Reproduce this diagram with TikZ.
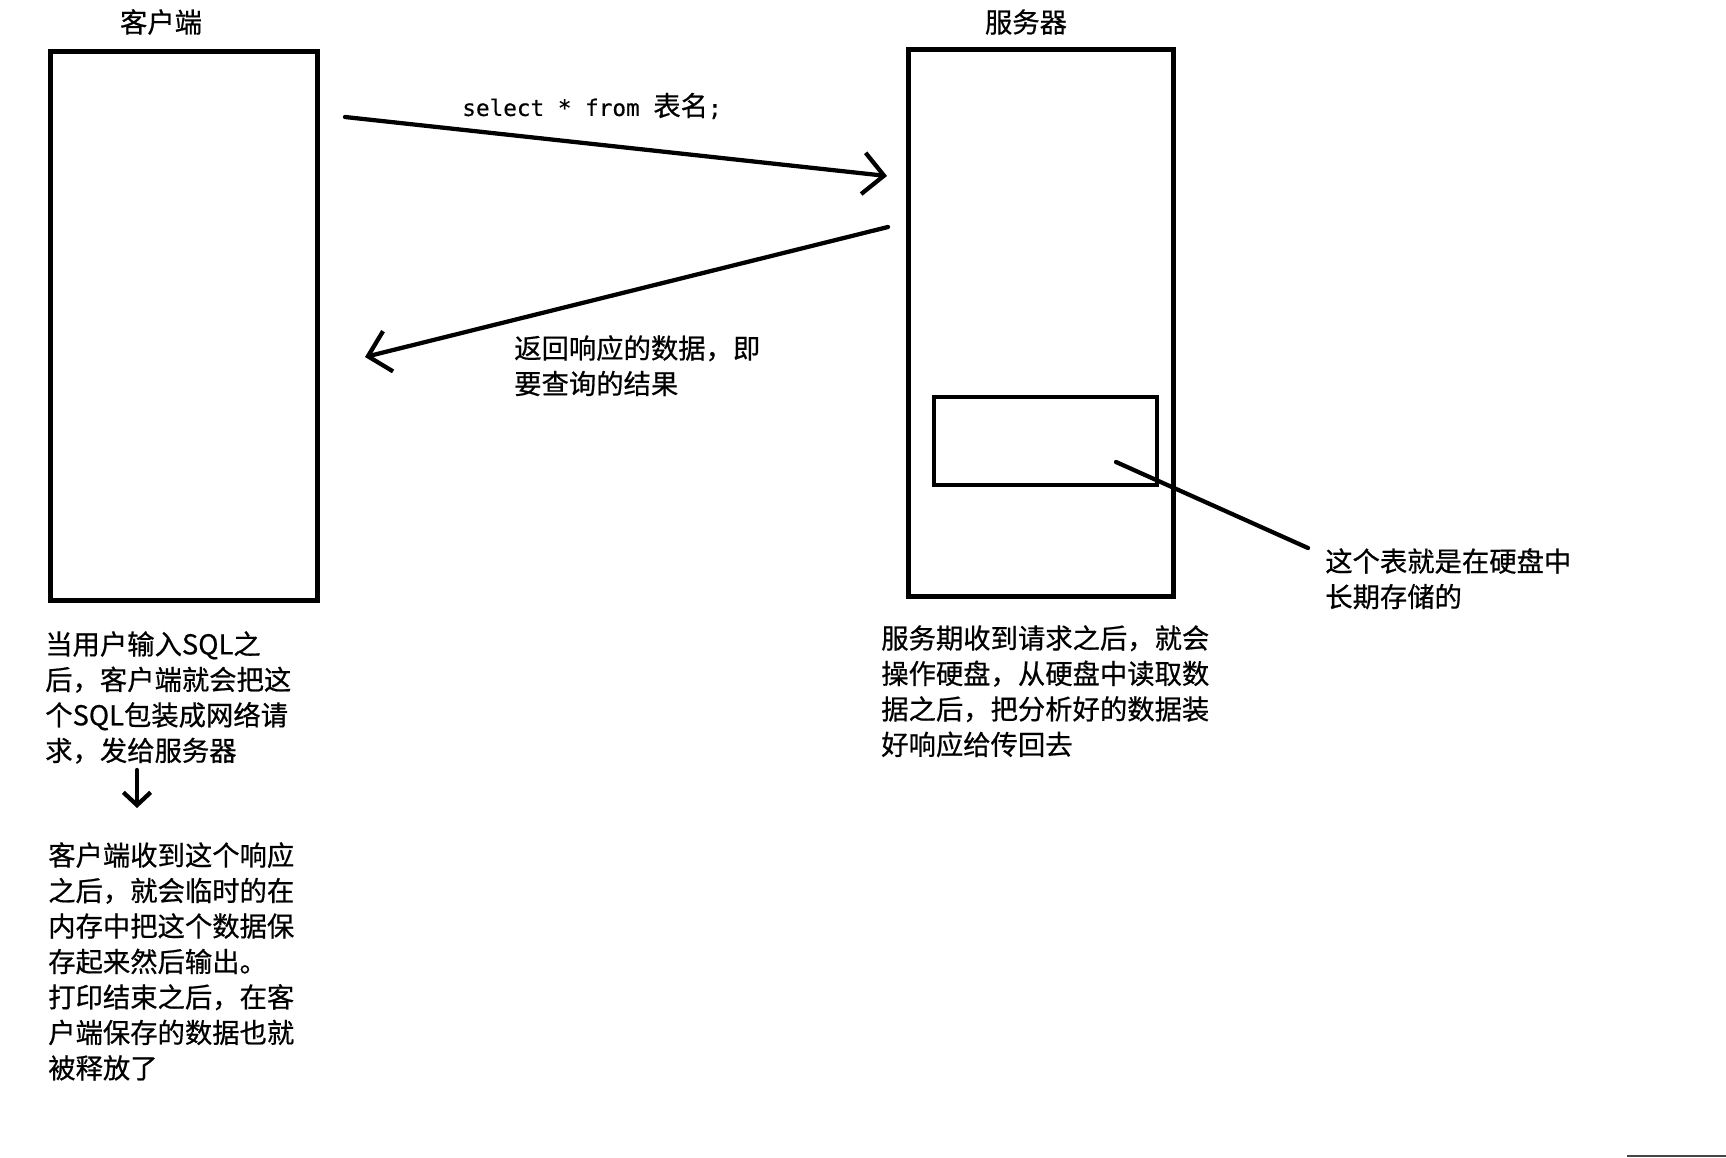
\documentclass[tikz,border=0pt]{standalone}
\usepackage{fontspec}
\setmainfont{Noto Sans CJK SC}[FakeBold=0.6]
\newfontfamily\codefont{DejaVu Sans Mono}[FakeBold=0.4]
\usepackage{tikz}
\usetikzlibrary{arrows.meta,positioning}
\definecolor{inkblack}{RGB}{0,0,0}
\definecolor{edgegray}{RGB}{70,70,70}
\newcommand{\zhsize}{\fontsize{20.5pt}{26.6pt}\selectfont}
\newcommand{\codesize}{\fontsize{17pt}{20pt}\selectfont}

\tikzset{
  boxline/.style={draw=inkblack, line width=3.75pt},
  tableline/.style={draw=inkblack, line width=3.1pt},
  stroke/.style={draw=inkblack, line width=3.2pt, line cap=round},
  handtip/.style={-{Straight Barb[angle=90:22pt]}},
  smalltip/.style={-{Straight Barb[angle=94:14pt]}},
  note/.style={font=\zhsize, align=left, anchor=north west, inner sep=0pt},
}

\begin{document}
\begin{tikzpicture}[x=0.75pt,y=-0.75pt]
    \useasboundingbox (0,0) rectangle (1726,1157);

    % client and server
    \node[boxline, minimum width=200pt, minimum height=411.75pt] (client) at (183.75,326) {};
    \node[font=\zhsize] (clienttitle) at (161,22) {客户端};
    \node[boxline, minimum width=198.4pt, minimum height=410.25pt] (server) at (1040.75,323) {};
    \node[font=\zhsize] (servertitle) at (1026,22) {服务器};

    % table kept on the disk
    \node[tableline, minimum width=167.25pt, minimum height=66pt] (table) at (1045.5,441) {};

    % request
    \coordinate (reqfrom) at (345,117);
    \coordinate (reqto) at (887,176);
    \draw[stroke, handtip] (reqfrom) -- (reqto);
    \node (sqltext) at (592,106) {{\codefont\codesize select * from }{\zhsize 表名}{\codefont\codesize ;}};

    % response
    \coordinate (respfrom) at (888,227);
    \coordinate (respto) at (365,357);
    \draw[stroke, handtip] (respfrom) -- (respto);
    \node[note] (resptext) at (514,335) {返回响应的数据，即\\要查询的结果};

    % pointer to the table
    \node[note] (disknote) at (1325,548) {这个表就是在硬盘中\\长期存储的};
    \coordinate (tablept) at (1116,462);
    \coordinate (diskpt) at (1308,548);
    \draw[stroke] (tablept) -- (diskpt);

    % notes under the boxes
    \node[note] (reqnote) at (45,631) {当用户输入SQL之\\后，客户端就会把这\\个SQL包装成网络请\\求，发给服务器};
    \node[note] (respnote) at (48,842) {客户端收到这个响应\\之后，就会临时的在\\内存中把这个数据保\\存起来然后输出。\\打印结束之后，在客\\户端保存的数据也就\\被释放了};
    \coordinate (downfrom) at (137,770);
    \coordinate (downto) at (137,808);
    \draw[stroke, smalltip] (downfrom) -- (downto);
    \node[note] (servernote) at (881,625) {服务期收到请求之后，就会\\操作硬盘，从硬盘中读取数\\据之后，把分析好的数据装\\好响应给传回去};

    % edge of the screen
    \draw[edgegray, line width=1.5pt] (1627,1156) -- (1726,1156);
\end{tikzpicture}
\end{document}
